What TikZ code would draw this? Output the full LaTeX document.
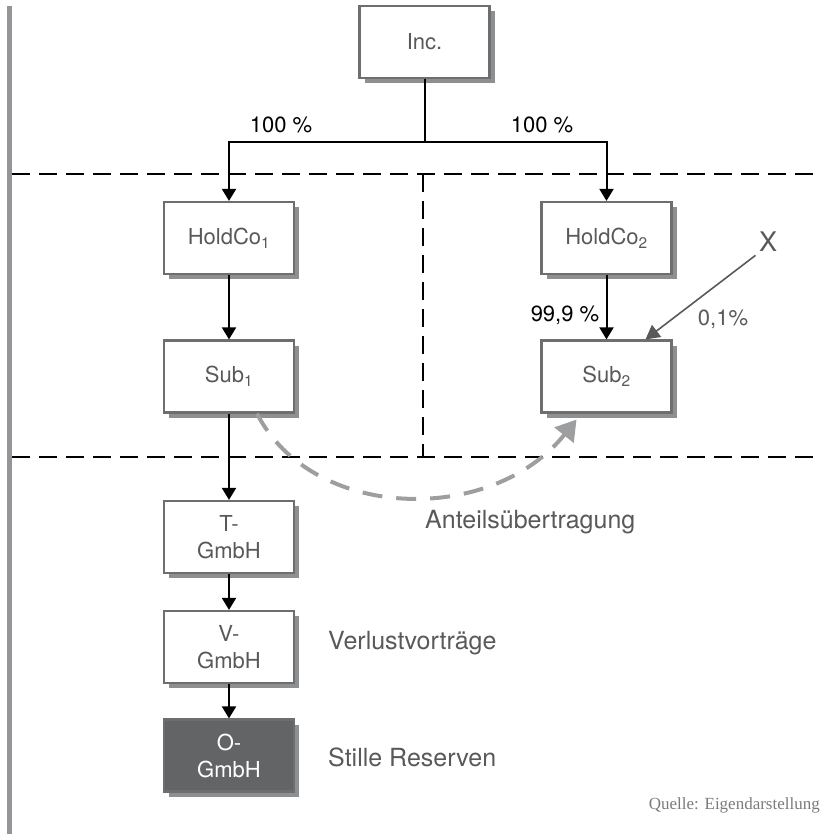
\documentclass[tikz,border=0pt]{standalone}
\usepackage{fontspec}
\setmainfont{TeX Gyre Heros}
\newfontfamily\quellefont{Liberation Serif}
\usetikzlibrary{arrows.meta,shadows}
\definecolor{boxline}{HTML}{6D6E70}
\definecolor{boxtext}{HTML}{58595B}
\definecolor{shadowgray}{HTML}{8E8F91}
\definecolor{darkbox}{HTML}{636466}
\definecolor{curvegray}{HTML}{9D9EA0}
\definecolor{bargray}{HTML}{939598}
\definecolor{quellgray}{HTML}{7A7B7D}
\tikzset{
  firma/.style={draw=boxline, line width=2.2pt, fill=white, minimum width=130pt,
    minimum height=72pt, align=center, text=boxtext, font=\fontsize{22}{27}\selectfont,
    drop shadow={shadow xshift=5pt, shadow yshift=-5pt, fill=shadowgray, opacity=1}},
  linie/.style={line width=2pt, black},
  pfeil/.style={linie, -{Triangle[width=14pt,length=12pt]}},
  trenn/.style={dash pattern=on 18pt off 9pt, line width=1.6pt},
  prozent/.style={font=\fontsize{22}{26}\selectfont, inner sep=0pt},
  seite/.style={font=\fontsize{25}{29}\selectfont, text=boxtext, inner sep=0pt, anchor=west},
  xpfeil/.style={line width=1.6pt, boxtext, -{Triangle[width=15pt,length=14pt]}},
  transfer/.style={line width=4pt, curvegray, dash pattern=on 20pt off 14pt,
    -{Triangle[width=24pt,length=20pt]}}
}
\begin{document}
\begin{tikzpicture}[x=1pt,y=-1pt]
  \useasboundingbox (0,0) rectangle (821,834);
  % Balken links
  \fill[bargray] (7,6) rectangle (12,834);
  % Trennlinien
  \draw[trenn] (12,174) -- (821,174);
  \draw[trenn] (12,457) -- (821,457);
  \draw[trenn] (423,174) -- (423,457);
  % Gesellschaften
  \node[firma] (inc) at (424.5,42) {Inc.};
  \node[firma] (hold1) at (229,238) {HoldCo\textsubscript{1}};
  \node[firma] (hold2) at (606.5,238) {HoldCo\textsubscript{2}};
  \node[firma] (sub1) at (229,376.5) {Sub\textsubscript{1}};
  \node[firma] (sub2) at (606.5,376.5) {Sub\textsubscript{2}};
  \node[firma] (tgmbh) at (229,537) {T-\\GmbH};
  \node[firma] (vgmbh) at (229,647) {V-\\GmbH};
  \node[firma, fill=darkbox, text=white] (ogmbh) at (229,755.5) {O-\\GmbH};
  % Beteiligungen
  \coordinate (split) at (inc.south |- 0,142);
  \draw[linie] (inc.south) -- (split);
  \draw[pfeil] (split) -| (hold1.north);
  \draw[pfeil] (split) -| (hold2.north);
  \draw[pfeil] (hold1) -- (sub1);
  \draw[pfeil] (hold2) -- (sub2);
  \draw[pfeil] (sub1) -- (tgmbh);
  \draw[pfeil] (tgmbh) -- (vgmbh);
  \draw[pfeil] (vgmbh) -- (ogmbh);
  \node[prozent] (p1) at (281,125) {100 \%};
  \node[prozent] (p2) at (542,125) {100 \%};
  \node[prozent] (p3) at (565,315) {99,9 \%};
  \node[prozent, text=boxtext] (p4) at (723,319) {0,1\%};
  % Minderheitsgesellschafter
  \node[font=\fontsize{27}{30}\selectfont, text=boxtext] (x) at (768,242) {X};
  \draw[xpfeil] (x.south west) -- ([xshift=39pt]sub2.north);
  % Anteilsuebertragung
  \draw[transfer] ([xshift=28pt]sub1.south) .. controls (312,521) and (491,526) .. ([xshift=-30pt,yshift=-6pt]sub2.south);
  \node[seite] (anteil) at (425,522) {Anteilsübertragung};
  \node[seite] (verlust) at (328,643) {Verlustvorträge};
  \node[seite] (reserve) at (328,757) {Stille Reserven};
  \node[anchor=east, inner sep=0pt, text=quellgray, font=\quellefont\fontsize{17}{20}\selectfont] (quelle) at (820,805) {Quelle: Eigendarstellung};
\end{tikzpicture}
\end{document}
